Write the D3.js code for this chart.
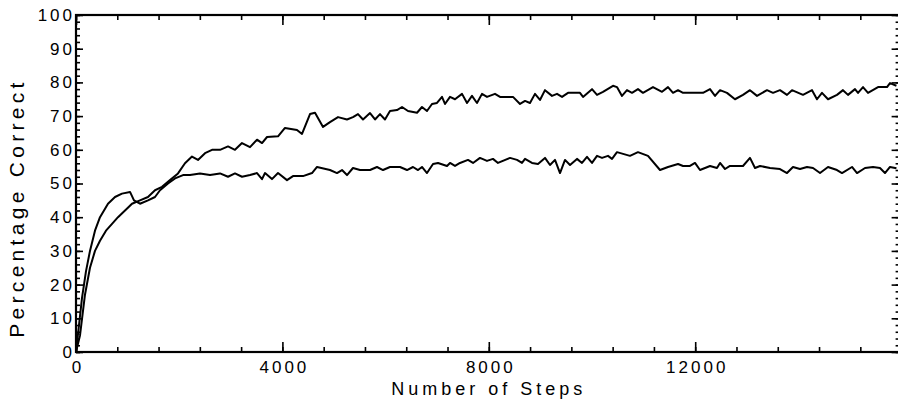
<!DOCTYPE html>
<html>
<head>
<meta charset="utf-8">
<script src="https://cdn.jsdelivr.net/npm/d3@7"></script>
<style>
  body { margin: 0; background: #fff; }
  text { font-family: "Liberation Sans", Arial, sans-serif; fill: #000; }
</style>
</head>
<body>
<script>
// upper run (ends near 80%)
const stepsA = [0, 78, 174, 271, 368, 465, 581, 698, 814, 950, 1085, 1240, 1395, 1531, 1667, 1822, 1977,
  2112, 2248, 2364, 2500, 2636, 2791, 2946, 3081, 3217, 3372, 3508, 3605, 3702, 3915, 4050, 4283, 4380,
  4535, 4632, 4787, 4922, 5078, 5252, 5368, 5465, 5562, 5698, 5795, 5891, 5988, 6085, 6221, 6318, 6434,
  6609, 6705, 6802, 6899, 6996, 7093, 7151, 7248, 7345, 7481, 7578, 7674, 7771, 7868, 7965, 8120, 8217,
  8469, 8605, 8702, 8798, 8895, 8992, 9089, 9225, 9322, 9419, 9535, 9767, 9826, 10000, 10097, 10213,
  10407, 10484, 10581, 10678, 10775, 10891, 10988, 11182, 11357, 11473, 11570, 11667, 11764, 12151,
  12287, 12384, 12481, 12616, 12771, 12926, 13062, 13198, 13391, 13508, 13643, 13779, 13876, 14089,
  14264, 14360, 14457, 14574, 14748, 14864, 14961, 15097, 15155, 15252, 15349, 15543, 15717, 15775, 15900];
const pctA = [0, 5, 17, 25, 30, 33, 36, 38, 40, 42, 44, 45, 46, 48, 49, 51, 53,
  56, 58, 57, 59, 60, 60, 61, 60, 62, 60.8, 63, 62, 63.8, 64, 66.5, 65.9, 64.7,
  70.6, 71, 66.8, 68.2, 69.7, 69, 69.7, 70.6, 69, 70.9, 69, 70.6, 69, 71.5, 71.8, 72.7, 71.5,
  71, 72.7, 71.5, 73.6, 73.9, 75.7, 73.6, 75.7, 75, 76.6, 73.9, 76, 73.9, 76.6, 75.7, 76.6, 75.7,
  75.7, 73.6, 74.5, 73.9, 76.6, 74.8, 77.7, 76, 76.6, 75.7, 76.9, 76.9, 75.7, 78, 76.3, 77.2,
  79, 78.6, 76, 77.7, 76.9, 78, 76.9, 78.6, 77.2, 78.6, 76.9, 77.7, 76.9, 76.9,
  78, 76, 77.7, 76.9, 75, 76.3, 77.7, 76, 77.7, 76.9, 77.7, 76.3, 77.7, 76.3,
  77.7, 75, 76.9, 75, 76.3, 77.7, 76.3, 78, 76.9, 78.6, 76.9, 78.6, 78.6, 79.8, 79];

// lower run (levels off near 55%)
const stepsB = [0, 58, 116, 194, 271, 368, 465, 620, 756, 891, 1047, 1124, 1240, 1395, 1531, 1628, 1783,
  1919, 2074, 2209, 2403, 2597, 2791, 2946, 3081, 3217, 3372, 3508, 3605, 3663, 3798, 3915, 4089, 4205,
  4399, 4574, 4671, 4922, 5058, 5155, 5252, 5368, 5504, 5698, 5833, 5950, 6085, 6279, 6415, 6531, 6628,
  6705, 6802, 6919, 7016, 7190, 7248, 7345, 7442, 7597, 7694, 7829, 7965, 8081, 8178, 8411, 8547, 8643,
  8702, 8837, 8953, 9089, 9186, 9283, 9380, 9477, 9574, 9709, 9806, 9903, 10000, 10097, 10194, 10310,
  10388, 10484, 10736, 10891, 11085, 11318, 11473, 11667, 11764, 11899, 11996, 12093, 12287, 12422,
  12481, 12578, 12674, 12926, 13062, 13159, 13256, 13450, 13643, 13779, 13895, 14031, 14167, 14283,
  14419, 14574, 14748, 14845, 15039, 15136, 15291, 15446, 15581, 15678, 15775, 15900];
const pctB = [0, 8, 16, 24, 30, 36, 40, 44, 46, 47, 47.5, 45, 44, 45, 46, 48, 50,
  51.5, 52.5, 52.5, 53, 52.5, 53, 52, 53, 52, 52.5, 53.1, 51.3, 53.1, 51.3, 53.1, 51, 52.2,
  52.2, 53.1, 54.9, 54, 53.1, 54, 52.5, 54.6, 54, 54, 54.9, 54, 54.9, 54.9, 54, 54.9, 54,
  54.9, 53.1, 55.8, 56.1, 55.2, 56.1, 55.2, 56.1, 57, 56.1, 57.6, 56.7, 57.3, 56.1, 57.6, 57, 56.1,
  57.3, 56.1, 55.8, 57.6, 55.5, 57, 53.1, 57, 55.5, 57.3, 56.1, 57.9, 56.1, 58.2, 57.6, 58.2,
  57.3, 59.3, 58.2, 59.3, 58.2, 54, 54.9, 55.8, 55.2, 55.2, 56.1, 54, 55.2, 54.6,
  56.1, 54.3, 55.2, 55.2, 57.6, 54.6, 55.2, 54.6, 54.3, 53.1, 54.9, 54.3, 54.9, 54.6,
  53.1, 54.9, 54, 53.1, 54.9, 53.1, 54.6, 54.9, 54.6, 53.1, 54.9, 54.5];

const xMajor = [0, 4000, 8000, 12000];
const xMinor = d3.range(0, 16000, 800);
const yMajor = d3.range(0, 101, 10);
const yMinor = d3.range(0, 101, 2);

const width = 898, height = 402;
// right edge of the frame falls just past the picture
const x = d3.scaleLinear().domain([0, 16000]).range([76, 901.6]);
const y = d3.scaleLinear().domain([0, 100]).range([352, 15]);

const svg = d3.select("body").append("svg")
    .attr("width", width)
    .attr("height", height);

// tick marks on all four sides, pointing inward
function ticksOnly(axis, tx, ty) {
  const g = svg.append("g").attr("transform", `translate(${tx},${ty})`).call(axis);
  g.select(".domain").remove();
  g.selectAll("text").remove();
  g.selectAll("line").attr("stroke", "#000").attr("stroke-width", 1.6);
  return g;
}
ticksOnly(d3.axisBottom(x).tickValues(xMinor).tickSize(-5), 0, y(0));
ticksOnly(d3.axisTop(x).tickValues(xMinor).tickSize(-5), 0, y(100));
ticksOnly(d3.axisLeft(y).tickValues(yMinor).tickSize(-4), x(0), 0);
ticksOnly(d3.axisRight(y).tickValues(yMinor).tickSize(-6), x.range()[1], 0);
ticksOnly(d3.axisTop(x).tickValues(xMajor).tickSize(-10), 0, y(100));
ticksOnly(d3.axisRight(y).tickValues(yMajor).tickSize(-10), x.range()[1], 0);

// labelled axes
const xAxis = svg.append("g")
    .attr("transform", `translate(0,${y(0)})`)
    .call(d3.axisBottom(x).tickValues(xMajor).tickSize(-10).tickSizeOuter(0).tickPadding(9).tickFormat(d3.format("d")));
const yAxis = svg.append("g")
    .attr("transform", `translate(${x(0)},0)`)
    .call(d3.axisLeft(y).tickValues(yMajor).tickSize(-7).tickSizeOuter(0).tickPadding(1));

[xAxis, yAxis].forEach(g => {
  g.select(".domain").remove();
  g.selectAll("line").attr("stroke", "#000").attr("stroke-width", 1.6);
  g.selectAll("text")
      .attr("font-size", 17)
      .attr("font-family", "Liberation Sans, Arial, sans-serif")
      .style("letter-spacing", "3px");
});
xAxis.selectAll("text").attr("dx", "1.5px");

// frame
svg.append("rect")
    .attr("x", x(0))
    .attr("y", y(100))
    .attr("width", x.range()[1] - x(0))
    .attr("height", y(0) - y(100))
    .attr("fill", "none")
    .attr("stroke", "#000")
    .attr("stroke-width", 2.2);

const line = d3.line()
    .x(d => x(d[0]))
    .y(d => y(d[1]));

svg.append("g")
    .attr("fill", "none")
    .attr("stroke", "#000")
    .attr("stroke-width", 2)
    .attr("stroke-linejoin", "round")
    .selectAll("path")
    .data([d3.zip(stepsA, pctA), d3.zip(stepsB, pctB)])
    .join("path")
    .attr("d", line);

svg.append("text")
    .attr("x", x(8000))
    .attr("y", 395)
    .attr("text-anchor", "middle")
    .attr("font-size", 18)
    .style("letter-spacing", "4px")
    .text("Number of Steps");

svg.append("text")
    .attr("transform", "translate(24,208) rotate(-90)")
    .attr("text-anchor", "middle")
    .attr("font-size", 21)
    .style("letter-spacing", "4.3px")
    .text("Percentage Correct");
</script>
</body>
</html>
